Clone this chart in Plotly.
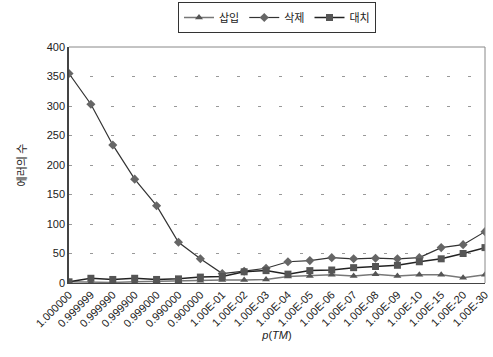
import plotly.graph_objects as go

categories = ["1.000000", "0.999999", "0.999990", "0.999900", "0.999000", "0.990000",
              "0.900000", "1.00E-01", "1.00E-02", "1.00E-03", "1.00E-04", "1.00E-05",
              "1.00E-06", "1.00E-07", "1.00E-08", "1.00E-09", "1.00E-10", "1.00E-15",
              "1.00E-20", "1.00E-30"]
insert_vals = [2, 1, 1, 2, 3, 3, 4, 5, 5, 6, 11, 12, 14, 12, 15, 12, 14, 14, 9, 14]
delete_vals = [355, 303, 234, 176, 131, 69, 41, 16, 20, 25, 36, 38, 43, 41, 42, 41, 43, 60, 65, 87]
subst_vals = [2, 8, 6, 8, 6, 7, 10, 11, 19, 21, 15, 21, 22, 26, 28, 30, 36, 41, 50, 60]
y_ticks = [0, 50, 100, 150, 200, 250, 300, 350, 400]

xs = list(range(len(categories)))
fig = go.Figure()
fig.add_trace(go.Scatter(x=xs, y=insert_vals, name="삽입", mode="lines+markers",
                         line=dict(color="#777777", width=1.5),
                         marker=dict(symbol="triangle-up", size=7, color="#555555")))
fig.add_trace(go.Scatter(x=xs, y=delete_vals, name="삭제", mode="lines+markers",
                         line=dict(color="#333333", width=1.2),
                         marker=dict(symbol="diamond", size=7, color="#666666")))
fig.add_trace(go.Scatter(x=xs, y=subst_vals, name="대치", mode="lines+markers",
                         line=dict(color="#222222", width=1.5),
                         marker=dict(symbol="square", size=7, color="#555555")))

font_fam = "Liberation Sans, Noto Sans CJK KR, sans-serif"
fig.update_layout(
    width=493, height=357,
    margin=dict(l=69, r=8, t=47, b=74, autoexpand=False),
    paper_bgcolor="white", plot_bgcolor="white",
    font=dict(family=font_fam, size=11, color="#222222"),
    showlegend=True,
    legend=dict(orientation="h", x=0.50, y=1.125, xanchor="center", yanchor="middle",
                bordercolor="#333333", borderwidth=1, font=dict(size=11, family="Noto Sans CJK KR"),
                itemwidth=30, tracegroupgap=0),
    xaxis=dict(range=[0, 19], tickmode="array", tickvals=xs, ticktext=categories,
               tickangle=-45, showgrid=False, zeroline=False, showline=True,
               linecolor="#444444", linewidth=1, tickfont=dict(size=11),
               ticklabeloverflow="allow",
               title=dict(text="<i>p</i>(<i>TM</i>)", font=dict(size=11), standoff=2),
               automargin=False),
    yaxis=dict(range=[0, 400], tickmode="array", tickvals=y_ticks,
               showgrid=True, gridcolor="#999999", griddash="3px,18px", gridwidth=1,
               zeroline=False, showline=True, linecolor="#444444", linewidth=1.5,
               tickfont=dict(size=11), automargin=False,
               title=dict(text="에러의 수", font=dict(size=11, family="Noto Sans CJK KR"), standoff=18),
               ),
)
fig.add_shape(type="line", xref="paper", yref="paper", x0=0, x1=1, y0=1, y1=1,
              line=dict(color="#888888", width=1))
fig.add_shape(type="line", xref="paper", yref="paper", x0=1, x1=1, y0=0, y1=1,
              line=dict(color="#888888", width=1))
fig.write_html("out.html", config={"displayModeBar": False},
               post_script="document.body.style.margin='0';document.body.style.padding='0';")
